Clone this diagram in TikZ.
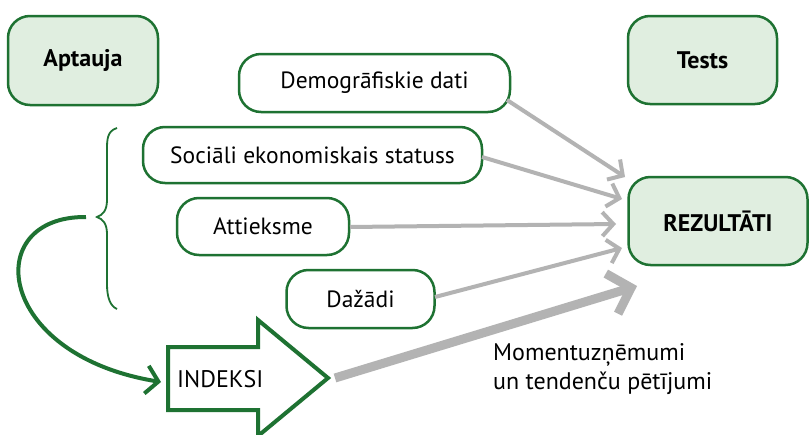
\documentclass[tikz,border=0pt]{standalone}
\usepackage{fontspec}
\setmainfont{PT Sans}
\usetikzlibrary{arrows.meta}
\definecolor{grn}{HTML}{1E7232}
\definecolor{lgrn}{HTML}{E0EEE0}
\definecolor{gry}{HTML}{B3B3B3}
\begin{document}
\begin{tikzpicture}[x=1pt,y=-1pt,
  greenbox/.style={draw=grn,line width=2.5pt,fill=lgrn,rounded corners=22pt,inner sep=0pt,font=\fontsize{24}{28}\selectfont\bfseries},
  whitebox/.style={draw=grn,line width=2.5pt,fill=white,rounded corners=22pt,inner sep=0pt,font=\fontsize{23.5}{28}\selectfont},
  thinarr/.style={draw=gry,line width=4pt,-{Straight Barb[length=11pt,width=24pt]}},
  thickarr/.style={draw=gry,line width=9pt,-{Straight Barb[length=20pt,width=42pt]}},
  greenarr/.style={draw=grn,line width=4pt,-{Straight Barb[length=12pt,width=28pt]}},
  bracestyle/.style={draw=grn,line width=1.8pt},
  plaintext/.style={inner sep=0pt,font=\fontsize{24}{29}\selectfont}
]
\useasboundingbox (0,0) rectangle (809,434);
\fill[white] (0,0) rectangle (809,434);

\node[greenbox,minimum width=150pt,minimum height=89pt] (aptauja) at (83,60.5) {Aptauja};
\node[greenbox,minimum width=149pt,minimum height=88pt] (tests) at (702.5,60) {Tests};
\node[greenbox,minimum width=179pt,minimum height=88pt] (rez) at (718,221) {REZULTĀTI};

\node[whitebox,minimum width=271pt,minimum height=58pt] (demo) at (374.5,83) {Demogrāfiskie dati};
\node[whitebox,minimum width=339pt,minimum height=56pt] (soc) at (312.5,155) {Sociāli ekonomiskais statuss};
\node[whitebox,minimum width=172pt,minimum height=57pt] (att) at (263,226.5) {Attieksme};
\node[whitebox,minimum width=148pt,minimum height=58pt] (daz) at (360.5,299) {Dažādi};

% INDEKSI block arrow
\draw[draw=grn,line width=4pt,fill=white,line join=miter]
  (168,347) -- (258,347) -- (258,320) -- (328,378) -- (258,436) -- (258,410) -- (168,410) -- cycle;
\node[plaintext,anchor=west] (indeksi) at (177,379) {INDEKSI};
\coordinate (indtip) at (335,378);

% brace
\coordinate (brtop) at (117,128);
\coordinate (brtip) at (97,217);
\coordinate (brbot) at (117,309);
\draw[bracestyle] (brtop) .. controls (107,131) and (107,140) .. (107,150)
  -- (107,200) .. controls (107,210) and (103,215) .. (brtip)
  .. controls (103,219) and (107,224) .. (107,234)
  -- (107,284) .. controls (107,297) and (110,306) .. (brbot);

% green curved arrow
\coordinate (gstart) at (86,217);
\coordinate (gend) at (161,382);
\draw[greenarr] (gstart) .. controls (-20,216) and (-5,355) .. (gend);

% gray arrows
\coordinate (t1) at (625,177);
\coordinate (t2) at (622,199);
\coordinate (t3) at (616,224);
\coordinate (t4) at (622,248);
\coordinate (t5) at (637,286);
\coordinate (s1) at (507,100);
\coordinate (s2) at (482,157);
\coordinate (s3) at (350,227);
\coordinate (s4) at (435,297);
\draw[thinarr] (s1) -- (t1);
\draw[thinarr] (s2) -- (t2);
\draw[thinarr] (s3) -- (t3);
\draw[thinarr] (s4) -- (t4);
\draw[thickarr] (indtip) -- (t5);

\node[plaintext,anchor=north west,align=left] (momtext) at (493,343) {Momentuzņēmumi\\un tendenču pētījumi};
\end{tikzpicture}
\end{document}
